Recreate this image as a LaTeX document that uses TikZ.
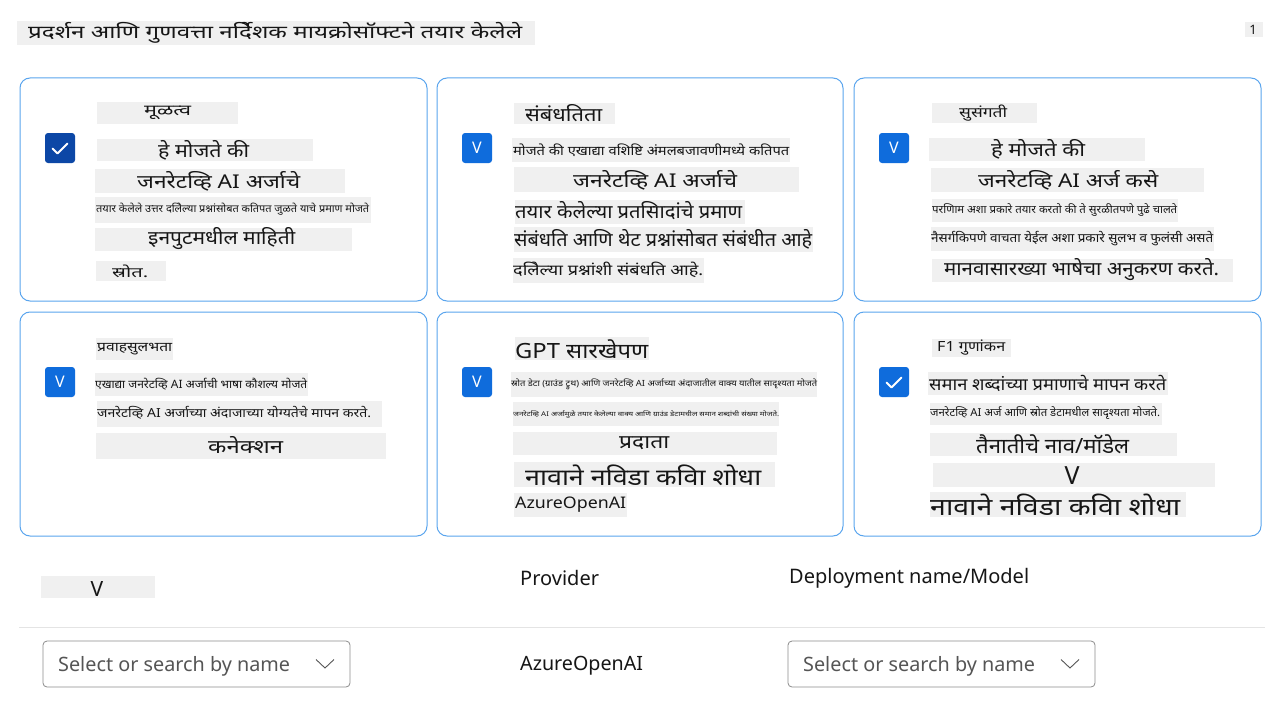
\documentclass[tikz,border=0pt]{standalone}
\usepackage{fontspec}
\usepackage{graphicx}
\setmainfont[Script=Devanagari]{Noto Sans}
\newfontfamily\latinf{Noto Sans}
\definecolor{cardb}{RGB}{90,165,238}
\definecolor{hl}{RGB}{240,240,240}
\definecolor{chkdark}{RGB}{12,71,166}
\definecolor{chk}{RGB}{15,108,220}
\definecolor{ink}{RGB}{22,22,22}
\definecolor{selb}{RGB}{140,140,140}
\definecolor{seltxt}{RGB}{85,85,85}
\definecolor{sepc}{RGB}{228,228,228}
\tikzset{
  card/.style={draw=cardb, line width=1pt, rounded corners=10pt, fill=white},
  chkbox/.style={rounded corners=3pt, minimum size=30pt, inner sep=0pt, text=white, font=\latinf\fontsize{16}{16}\selectfont},
  tx/.style={inner sep=0pt, text=ink},
  seltext/.style={inner sep=0pt, text=seltxt, anchor=west, font=\latinf\fontsize{19.8}{19.8}\selectfont},
  selbox/.style={draw=selb, line width=0.8pt, rounded corners=4pt, fill=white},
  chev/.style={draw=seltxt, line width=0.9pt},
  check/.style={draw=white, line width=1.8pt, line cap=round, line join=round},
  head/.style={tx, anchor=west, font=\latinf\fontsize{20}{20}\selectfont}
}
\newcommand{\tx}[6]{\node[tx,anchor=west] (#1) at (#2,#4) {\resizebox{\dimexpr#3pt-#2pt\relax}{\height}{\fontsize{#5}{#5}\selectfont #6}};}
\begin{document}
\begin{tikzpicture}[x=1pt,y=-1pt]
\useasboundingbox (0,0) rectangle (1288,709);
\fill[white] (0,0) rectangle (1288,709);

% title
\fill[hl] (17,21) rectangle (535,45);
\tx{title}{28}{522}{33}{18}{प्रदर्शन आणि गुणवत्ता नर्दिेशक मायक्रोसॉफ्टने तयार केलेले}
\fill[hl] (1245,22) rectangle (1263,37);
\node[tx, font=\latinf\fontsize{13}{13}\selectfont] (pg) at (1253,29.5) {1};

% cards
\draw[card] (20,78) rectangle (427,301);
\draw[card] (437,78) rectangle (843,301);
\draw[card] (854,78) rectangle (1261,301);
\draw[card] (20,312) rectangle (427,536);
\draw[card] (437,312) rectangle (843,536);
\draw[card] (854,312) rectangle (1261,536);

% checkboxes
\node[chkbox, fill=chkdark] (cb1) at (60,148) {};
\draw[check] (52.5,148.5) -- (57.5,153.5) -- (67.5,143.5);
\node[chkbox, fill=chk] (cb2) at (477,148) {V};
\node[chkbox, fill=chk] (cb3) at (894,148) {V};
\node[chkbox, fill=chk] (cb4) at (60,382) {V};
\node[chkbox, fill=chk] (cb5) at (477,382) {V};
\node[chkbox, fill=chk] (cb6) at (894,382) {};
\draw[check] (886.5,382.5) -- (891.5,387.5) -- (901.5,377.5);

% card 1
\fill[hl] (97,102) rectangle (238,124);
\tx{a1}{144}{191}{113}{15}{मूळत्व}
\fill[hl] (97,139) rectangle (313,161);
\tx{a2}{158}{249}{150}{19}{हे मोजते की}
\fill[hl] (95,169) rectangle (345,193);
\tx{a3}{137}{300}{181}{19}{जनरेटव्हि AI अर्जाचे}
\fill[hl] (95,197) rectangle (371,223);
\tx{a4}{96}{369}{209}{10.5}{तयार केलेले उत्तर दलिेल्या प्रश्नांसोबत कतिपत जुळते याचे प्रमाण मोजते}
\fill[hl] (95,228) rectangle (352,251);
\tx{a5}{148}{295}{239}{19}{इनपुटमधील माहिती}
\fill[hl] (96,261) rectangle (166,281);
\tx{a6}{112}{148}{271}{14}{स्रोत.}

% card 2
\fill[hl] (514,103) rectangle (615,124);
\tx{b1}{525}{602}{113}{19}{संबंधतिता}
\fill[hl] (512,138) rectangle (790,162);
\tx{b2}{513}{789}{150}{13}{मोजते की एखाद्या वशिष्टि अंमलबजावणीमध्ये कतिपत}
\fill[hl] (514,167) rectangle (799,192);
\tx{b3}{573}{737}{180}{19}{जनरेटव्हि AI अर्जाचे}
\fill[hl] (515,200) rectangle (745,224);
\tx{b4}{515}{742}{211}{19}{तयार केलेल्या प्रतसिादांचे प्रमाण}
\fill[hl] (514,227) rectangle (813,252);
\tx{b5}{514}{812}{239}{19}{संबंधति आणि थेट प्रश्नांसोबत संबंधीत आहे}
\fill[hl] (513,258) rectangle (704,283);
\tx{b6}{513}{703}{270}{15}{दलिेल्या प्रश्नांशी संबंधति आहे.}

% card 3
\fill[hl] (932,103) rectangle (1037,123);
\tx{c1}{959}{1007}{113}{14}{सुसंगती}
\fill[hl] (929,138) rectangle (1145,161);
\tx{c2}{991}{1085}{149}{19}{हे मोजते की}
\fill[hl] (931,168) rectangle (1204,192);
\tx{c3}{978}{1158}{180}{19}{जनरेटव्हि AI अर्ज कसे}
\fill[hl] (932,199) rectangle (1178,222);
\tx{c4}{932}{1177}{210}{11}{परणिाम अशा प्रकारे तयार करतो की ते सुरळीतपणे पुढे चालते}
\fill[hl] (931,227) rectangle (1214,251);
\tx{c5}{931}{1213}{239}{12.5}{नैसर्गकिपणे वाचता येईल अशा प्रकारे सुलभ व फुलंसी असते}
\fill[hl] (932,259) rectangle (1233,282);
\tx{c6}{944}{1219}{270}{19}{मानवासारख्या भाषेचा अनुकरण करते.}

% card 4
\fill[hl] (96,338) rectangle (173,360);
\tx{d1}{97}{172}{349}{13}{प्रवाहसुलभता}
\fill[hl] (95,373) rectangle (308,396);
\tx{d2}{95}{307}{384}{11.5}{एखाद्या जनरेटव्हि AI अर्जाची भाषा कौशल्य मोजते}
\fill[hl] (97,401) rectangle (382,427);
\tx{d3}{97}{371}{413}{12.5}{जनरेटव्हि AI अर्जाच्या अंदाजाच्या योग्यतेचे मापन करते.}
\fill[hl] (96,433) rectangle (386,459);
\tx{d4}{208}{283}{445}{19}{कनेक्शन}

% card 5
\fill[hl] (515,337) rectangle (649,360);
\tx{e1}{515}{648}{349}{21}{GPT सारखेपण}
\fill[hl] (511,372) rectangle (817,397);
\tx{e2}{511}{817}{384}{8.5}{स्रोत डेटा (ग्राउंड ट्रुथ) आणि जनरेटव्हि AI अर्जाच्या अंदाजातील वाक्य यातील सादृश्यता मोजते}
\fill[hl] (513,402) rectangle (779,426);
\tx{e3}{513}{779}{414}{6.5}{जनरेटव्हि AI अर्जामुळे तयार केलेल्या वाक्य आणि ग्राउंड डेटामधील समान शब्दांची संख्या मोजते.}
\fill[hl] (513,432) rectangle (777,455);
\tx{e4}{619}{669}{443}{19}{प्रदाता}
\fill[hl] (514,462) rectangle (775,487);
\tx{e5}{525}{761}{475}{23}{नावाने नविडा कविा शोधा}
\fill[hl] (514,493) rectangle (627,517);
\tx{e6}{515}{626}{505}{16}{AzureOpenAI}

% card 6
\fill[hl] (932,339) rectangle (1011,357);
\tx{f1}{937}{1005}{348}{14}{F1 गुणांकन}
\fill[hl] (928,372) rectangle (1168,395);
\tx{f2}{929}{1166}{383}{17}{समान शब्दांच्या प्रमाणाचे मापन करते}
\fill[hl] (930,403) rectangle (1162,425);
\tx{f3}{930}{1160}{413}{11}{जनरेटव्हि AI अर्ज आणि स्रोत डेटामधील सादृश्यता मोजते.}
\fill[hl] (930,433) rectangle (1177,456);
\tx{f4}{976}{1129}{444}{21}{तैनातीचे नाव/मॉडेल}
\fill[hl] (933,463) rectangle (1215,487);
\node[tx, font=\latinf\fontsize{25}{25}\selectfont] (f5) at (1072,476) {V};
\fill[hl] (930,492) rectangle (1186,517);
\tx{f6}{930}{1180}{505}{24}{नावाने नविडा कविा शोधा}

% bottom area
\fill[hl] (41,576) rectangle (155,598);
\node[tx, font=\latinf\fontsize{21}{21}\selectfont] (hv) at (97,589) {V};
\node[head] (hprov) at (520,578) {Provider};
\node[head] (hdep) at (789,578) {Deployment name/Model};
\coordinate (sepL) at (19,627.5);
\coordinate (sepR) at (1265,627.5);
\draw[sepc, line width=1pt] (sepL) -- (sepR);

\draw[selbox] (43,641) rectangle (350,687);
\node[seltext] (sel1) at (58,666) {Select or search by name};
\coordinate (ch1a) at (316,659.5);
\coordinate (ch1b) at (325,668);
\coordinate (ch1c) at (334,659.5);
\draw[chev] (ch1a) -- (ch1b) -- (ch1c);

\node[tx, anchor=west, font=\latinf\fontsize{19.7}{19.7}\selectfont] (azure) at (520,666) {AzureOpenAI};

\draw[selbox] (788,641) rectangle (1095,687);
\node[seltext] (sel2) at (803,666) {Select or search by name};
\coordinate (ch2a) at (1061,659.5);
\coordinate (ch2b) at (1070,668);
\coordinate (ch2c) at (1079,659.5);
\draw[chev] (ch2a) -- (ch2b) -- (ch2c);
\end{tikzpicture}
\end{document}
